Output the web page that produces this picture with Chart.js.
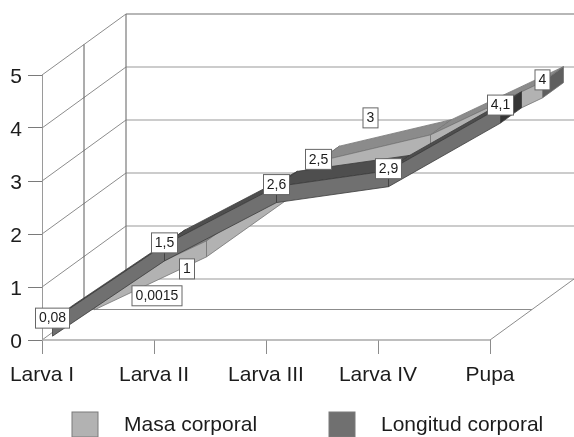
<!DOCTYPE html>
<html>
<head>
<meta charset="utf-8">
<style>
  html, body { margin: 0; padding: 0; background: #fff; }
  /* the reference is a soft scan */
  canvas { display: block; filter: blur(0.4px); }
</style>
<script src="https://cdn.jsdelivr.net/npm/chart.js@4"></script>
</head>
<body>
<canvas id="chart" width="574" height="437"></canvas>
<script>
const categories = ['Larva I', 'Larva II', 'Larva III', 'Larva IV', 'Pupa'];
const masaCorporal = [0.0015, 1, 2.5, 3, 4];
const longitudCorporal = [0.08, 1.5, 2.6, 2.9, 4.1];
const seriesNames = ['Masa corporal', 'Longitud corporal'];

// 3D look: how far the floor runs back in pixels, and ribbon size
const DEPTH_X = 84;
const DEPTH_Y = 61;
const RIBBON_HALF = 8;
const FONT = '"Liberation Sans", Arial, sans-serif';

// which depth slot of the floor each ribbon sits in, and its shades
const ribbons = [
  { dataset: 0, front: 0.625, back: 0.875, frontFill: '#b2b2b2', topFill: '#8b8b8b', capFill: '#5f5f5f', line: '#767676' },
  { dataset: 1, front: 0.125, back: 0.375, frontFill: '#707070', topFill: '#4e4e4e', capFill: '#353535', line: '#3c3c3c' }
];

// labels the original author dragged away from their point
const labelShift = {
  '0-0': [62.5, 4],
  '0-1': [-19.5, 30],
  '0-3': [-60, -15]
};

function poly(ctx, pts, fill, stroke) {
  ctx.beginPath();
  pts.forEach((p, i) => i === 0 ? ctx.moveTo(p[0], p[1]) : ctx.lineTo(p[0], p[1]));
  ctx.closePath();
  ctx.fillStyle = fill;
  ctx.fill();
  if (stroke) {
    ctx.strokeStyle = stroke;
    ctx.lineWidth = 0.8;
    ctx.stroke();
  }
}

function seg(ctx, x1, y1, x2, y2, color, width) {
  ctx.beginPath();
  ctx.moveTo(x1, y1);
  ctx.lineTo(x2, y2);
  ctx.strokeStyle = color;
  ctx.lineWidth = width || 1;
  ctx.stroke();
}

const backdrop = {
  id: 'backdrop',
  beforeDatasetsDraw(chart) {
    const { ctx, scales: { x, y } } = chart;
    const left = x.getPixelForValue(0);
    const right = x.getPixelForValue(categories.length - 1);
    const bottom = y.getPixelForValue(0);
    const top = y.getPixelForValue(5);
    ctx.save();
    y.ticks.forEach(t => {
      const py = y.getPixelForValue(t.value);
      const color = t.value === 5 ? '#707070' : '#9a9a9a';
      seg(ctx, left, py, left + DEPTH_X, py - DEPTH_Y, '#8c8c8c');
      seg(ctx, left + DEPTH_X, py - DEPTH_Y, right + DEPTH_X, py - DEPTH_Y, color, 1.2);
    });
    seg(ctx, left + DEPTH_X, top - DEPTH_Y, left + DEPTH_X, bottom - DEPTH_Y, '#7a7a7a', 1.2);
    seg(ctx, left + DEPTH_X / 2, top - DEPTH_Y / 2, left + DEPTH_X / 2, bottom - DEPTH_Y / 2, '#5a5a5a', 1);
    seg(ctx, left + DEPTH_X / 2, bottom - DEPTH_Y / 2, right + DEPTH_X / 2, bottom - DEPTH_Y / 2, '#8c8c8c', 1.2);
    seg(ctx, right, bottom, right + DEPTH_X, bottom - DEPTH_Y, '#8c8c8c');
    seg(ctx, left, bottom, right, bottom, '#a8a8a8', 1.6);
    ctx.restore();
  }
};

const ribbon3d = {
  id: 'ribbon3d',
  afterDatasetsDraw(chart) {
    const { ctx, scales: { x, y } } = chart;
    ctx.save();
    ribbons.forEach(r => {
      const values = chart.data.datasets[r.dataset].data;
      const at = (i, depth, off) => [
        x.getPixelForValue(i) + DEPTH_X * depth,
        y.getPixelForValue(values[i]) - DEPTH_Y * depth + off
      ];
      for (let i = 0; i < values.length - 1; i++) {
        poly(ctx, [at(i, r.front, -RIBBON_HALF), at(i + 1, r.front, -RIBBON_HALF), at(i + 1, r.back, -RIBBON_HALF), at(i, r.back, -RIBBON_HALF)], r.topFill, r.line);
      }
      const last = values.length - 1;
      poly(ctx, [at(last, r.front, -RIBBON_HALF), at(last, r.back, -RIBBON_HALF), at(last, r.back, RIBBON_HALF), at(last, r.front, RIBBON_HALF)], r.capFill, r.line);
      for (let i = 0; i < values.length - 1; i++) {
        poly(ctx, [at(i, r.front, -RIBBON_HALF), at(i + 1, r.front, -RIBBON_HALF), at(i + 1, r.front, RIBBON_HALF), at(i, r.front, RIBBON_HALF)], r.frontFill, r.line);
      }
    });
    ctx.restore();
  }
};

const valueLabels = {
  id: 'valueLabels',
  afterDraw(chart) {
    const { ctx, scales: { x, y } } = chart;
    ctx.save();
    ctx.font = '14px ' + FONT;
    ctx.textAlign = 'center';
    ctx.textBaseline = 'middle';
    ribbons.forEach(r => {
      chart.data.datasets[r.dataset].data.forEach((v, i) => {
        const text = String(v).replace('.', ',');
        const shift = labelShift[r.dataset + '-' + i] || [0, 0];
        const cx = x.getPixelForValue(i) + DEPTH_X * r.front + shift[0];
        const bottom = y.getPixelForValue(v) - DEPTH_Y * r.front + shift[1];
        const w = Math.round(ctx.measureText(text).width) + 7;
        ctx.fillStyle = '#fff';
        ctx.strokeStyle = '#666';
        ctx.lineWidth = 1;
        ctx.fillRect(cx - w / 2, bottom - 20, w, 20);
        ctx.strokeRect(cx - w / 2, bottom - 20, w, 20);
        ctx.fillStyle = '#1c1c1c';
        ctx.fillText(text, cx, bottom - 9.5);
      });
    });
    ctx.restore();
  }
};

const bottomLegend = {
  id: 'bottomLegend',
  afterDraw(chart) {
    const { ctx } = chart;
    const items = [
      { boxX: 72, textX: 124, fill: ribbons[0].frontFill },
      { boxX: 329, textX: 381, fill: ribbons[1].frontFill }
    ];
    ctx.save();
    ctx.font = '21px ' + FONT;
    ctx.textAlign = 'left';
    ctx.textBaseline = 'middle';
    items.forEach((item, i) => {
      ctx.fillStyle = item.fill;
      ctx.strokeStyle = '#7a7a7a';
      ctx.lineWidth = 1;
      ctx.fillRect(item.boxX, 412, 26, 25);
      ctx.strokeRect(item.boxX, 412, 26, 25);
      ctx.fillStyle = '#1c1c1c';
      ctx.fillText(chart.data.datasets[i].label, item.textX, 425);
    });
    ctx.restore();
  }
};

const tickFont = { family: FONT, size: 21 };

new Chart(document.getElementById('chart'), {
  type: 'line',
  data: {
    labels: categories,
    datasets: [
      { label: seriesNames[0], data: masaCorporal, showLine: false, pointRadius: 0 },
      { label: seriesNames[1], data: longitudCorporal, showLine: false, pointRadius: 0 }
    ]
  },
  options: {
    responsive: false,
    animation: false,
    layout: { padding: { top: 75, right: 84 } },
    plugins: {
      legend: { display: false },
      tooltip: { enabled: false }
    },
    scales: {
      x: {
        offset: false,
        afterFit: s => { s.height = 97; },
        border: { display: false },
        grid: { drawOnChartArea: false, tickLength: 14, tickColor: '#8c8c8c' },
        ticks: { font: tickFont, color: '#1c1c1c', padding: 9, maxRotation: 0, autoSkip: false }
      },
      y: {
        min: 0,
        max: 5,
        afterFit: s => { s.width = 42; },
        border: { color: '#9a9a9a' },
        grid: { drawOnChartArea: false, tickLength: 14, tickColor: '#7a7a7a' },
        ticks: { font: tickFont, color: '#1c1c1c', padding: 6, stepSize: 1, labelOffset: 2 }
      }
    }
  },
  plugins: [backdrop, ribbon3d, valueLabels, bottomLegend]
});
</script>
</body>
</html>
